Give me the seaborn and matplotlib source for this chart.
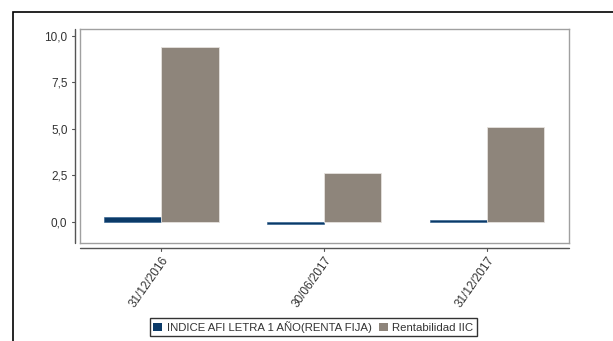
import matplotlib
matplotlib.use("Agg")
import matplotlib.pyplot as plt
from matplotlib.lines import Line2D
from matplotlib.patches import Rectangle
from matplotlib.ticker import FuncFormatter
import pandas as pd
import seaborn as sns

fechas = ["31/12/2016", "30/06/2017", "31/12/2017"]
indice_afi = [0.27, -0.09, 0.10]
rentabilidad_iic = [9.41, 2.65, 5.09]
series = ["INDICE AFI LETRA 1 AÑO(RENTA FIJA)", "Rentabilidad IIC"]
colores = ["#0b3a68", "#8e857b"]
y_ticks = [0.0, 2.5, 5.0, 7.5, 10.0]

df = pd.DataFrame({
    "fecha": fechas * 2,
    "valor": indice_afi + rentabilidad_iic,
    "serie": [series[0]] * len(fechas) + [series[1]] * len(fechas),
})

sns.set_theme(style="white")
plt.rcParams["font.family"] = ["Liberation Sans", "DejaVu Sans"]

fig = plt.figure(figsize=(6.13, 3.41), dpi=100)
ax = fig.add_axes([0.1305, 0.2874, 0.7975, 0.6276])

sns.barplot(data=df, x="fecha", y="valor", hue="serie", palette=colores,
            width=0.7, ax=ax, linewidth=0, saturation=1, legend=False)

# light outline only on the large bars
n = len(fechas)
for i, patch in enumerate(ax.patches):
    if i >= n:
        patch.set_edgecolor("#e6e2de")
        patch.set_linewidth(0.6)
    else:
        patch.set_edgecolor("#2a5a8a")
        patch.set_linewidth(0.4)

ax.set_ylim(-1.13, 10.35)
ax.set_xlim(-0.5, 2.5)
ax.set_yticks(y_ticks)
ax.yaxis.set_major_formatter(FuncFormatter(lambda v, p: f"{v:.1f}".replace(".", ",")))
ax.set_xlabel("")
ax.set_ylabel("")

for s in ax.spines.values():
    s.set_color("#a0a0a0")
    s.set_linewidth(1.0)

ax.tick_params(axis="both", length=0, labelsize=8.5, colors="#333333")
ax.tick_params(axis="y", pad=9)
ax.tick_params(axis="x", pad=8)
for lab in ax.get_xticklabels():
    lab.set_rotation(55)
    lab.set_ha("right")
    lab.set_rotation_mode("anchor")

# Offset axis lines outside the plot frame
ax_col = "#555555"
y_off = -5 / 613 / 0.7975
x_off = -5 / 341 / 0.6276
ax.add_line(Line2D([y_off, y_off], [0.0, 1.0], transform=ax.transAxes,
                   color=ax_col, lw=1.0, clip_on=False))
ax.add_line(Line2D([0.0, 1.0], [x_off, x_off], transform=ax.transAxes,
                   color=ax_col, lw=1.0, clip_on=False))
trans_y = ax.get_yaxis_transform()
for t in y_ticks:
    ax.add_line(Line2D([y_off - 0.006, y_off], [t, t], transform=trans_y,
                       color=ax_col, lw=0.8, clip_on=False))
trans_x = ax.get_xaxis_transform()
for i in range(len(fechas)):
    ax.add_line(Line2D([i, i], [x_off, x_off - 0.015], transform=trans_x,
                       color=ax_col, lw=0.8, clip_on=False))

# Outer chart border
fig.add_artist(Rectangle((13 / 613, -0.1), 1.2, 1 - 12 / 341 + 0.1,
                         transform=fig.transFigure, fill=False,
                         edgecolor="black", lw=1.2))

handles = [Rectangle((0, 0), 1, 1, facecolor=c, edgecolor="none") for c in colores]
leg = fig.legend(handles, series, loc="center", bbox_to_anchor=(0.511, 0.041),
                 ncol=2, frameon=True, fancybox=False, fontsize=8.2,
                 handlelength=0.8, handleheight=0.8, handletextpad=0.4,
                 columnspacing=0.6, borderpad=0.3, borderaxespad=0)
leg.get_frame().set_edgecolor("black")
leg.get_frame().set_linewidth(1.0)
for txt in leg.get_texts():
    txt.set_color("#333333")

fig.savefig("out.png", dpi=100)
